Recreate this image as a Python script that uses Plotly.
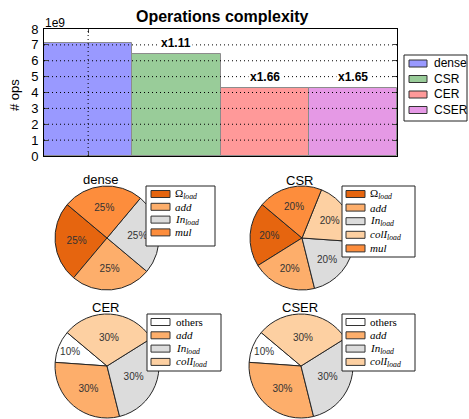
import plotly.graph_objects as go

W, H = 469, 419

# ---- bar chart data ----
bar_names = ["dense", "CSR", "CER", "CSER"]
bar_ops = [7.10e9, 6.40e9, 4.28e9, 4.30e9]
ops_ticks = [0, 1e9, 2e9, 3e9, 4e9, 5e9, 6e9, 7e9, 8e9]
ops_tick_labels = ["0", "1", "2", "3", "4", "5", "6", "7", "8"]

# ---- operation breakdown per format (percent) ----
dense_parts = ["omega", "add", "in", "mul"]
dense_shares = [25, 25, 25, 25]
csr_parts = ["omega", "add", "in", "coli", "mul"]
csr_shares = [20, 20, 20, 20, 20]
cer_parts = ["others", "add", "in", "coli"]
cer_shares = [10, 30, 30, 30]
cser_parts = ["others", "add", "in", "coli"]
cser_shares = [10, 30, 30, 30]

SUB = '<sub><span style="color:#000000"><i>load</i></span></sub>'
part_names = {
    "omega": "Ω" + SUB,
    "add": "<i>add</i>",
    "in": "<i>In</i>" + SUB,
    "coli": "<i>colI</i>" + SUB,
    "mul": "<i>mul</i>",
    "others": "others",
}
part_colors = {
    "omega": "#e6650f",
    "add": "#fdae6b",
    "in": "#dcdcdc",
    "coli": "#fdd0a2",
    "mul": "#fd8d3c",
    "others": "#ffffff",
}
bar_fills = ["rgba(0,0,255,0.4)", "rgba(0,128,0,0.4)",
             "rgba(255,0,0,0.4)", "rgba(191,0,191,0.4)"]

SANS = "Liberation Sans, Arial, sans-serif"
SERIF = "Liberation Serif, DejaVu Serif, serif"

# first wedge begins 50 deg counter-clockwise from 12 o'clock
START_DEG = 50


def px(x):
    return x / W


def py(y):
    return 1 - y / H


fig = go.Figure()

# ---- bars ----
for i, (name, val) in enumerate(zip(bar_names, bar_ops)):
    fig.add_trace(go.Bar(
        x=[i], y=[val], width=1, name=name,
        marker=dict(color=bar_fills[i], line=dict(color="#8c8c8c", width=1)),
        showlegend=False, hoverinfo="skip",
    ))

# speed-up labels relative to the dense baseline
for i, val in enumerate(bar_ops):
    if i == 0:
        continue
    ratio = bar_ops[0] / val
    fig.add_annotation(
        x=i, y=val, xref="x", yref="y", text=f"<b>x{ratio:.2f}</b>",
        showarrow=False, yanchor="bottom", yshift=2, bgcolor="white",
        borderpad=1, font=dict(family=SANS, size=12, color="black"),
    )

# dotted grid drawn over the bars
for t in ops_ticks[1:-1]:
    fig.add_shape(type="line", xref="x domain", yref="y", x0=0, x1=1, y0=t, y1=t,
                  line=dict(color="black", width=1, dash="1px,3px"), layer="above")
fig.add_shape(type="line", xref="x", yref="y domain", x0=0, x1=0, y0=0, y1=1,
              line=dict(color="black", width=1, dash="1px,3px"), layer="above")

fig.update_layout(
    xaxis=dict(domain=[px(44), px(397)], range=[-0.5, len(bar_names) - 0.5],
               tickvals=[0], ticktext=[""], ticks="inside", ticklen=4,
               showline=True, linecolor="black", linewidth=1, mirror="ticks",
               showgrid=False, zeroline=False, automargin=False, fixedrange=True),
    yaxis=dict(domain=[py(156), py(29)], range=[0, ops_ticks[-1]],
               tickvals=ops_ticks, ticktext=ops_tick_labels, ticks="inside", ticklen=4,
               showline=True, linecolor="black", linewidth=1, mirror="ticks",
               showgrid=False, zeroline=False, automargin=False,
               tickfont=dict(family=SANS, size=13, color="black"),
               ticklabelstandoff=2, fixedrange=True),
    bargap=0,
)

# ---- pies ----
pies = [
    ("dense", dense_parts, dense_shares, (107, 238)),
    ("CSR", csr_parts, csr_shares, (302, 238)),
    ("CER", cer_parts, cer_shares, (107, 366)),
    ("CSER", cser_parts, cser_shares, (301, 366)),
]
R = 52
for title, parts, shares, (cx, cy) in pies:
    # plotly's counter-clockwise pies place the first wedge clockwise of `rotation`
    first_deg = 360 * shares[0] / sum(shares)
    fig.add_trace(go.Pie(
        labels=[part_names[p] for p in parts], values=shares,
        marker=dict(colors=[part_colors[p] for p in parts],
                    line=dict(color="#262626", width=1)),
        sort=False, direction="counterclockwise", rotation=-(START_DEG + first_deg),
        textinfo="percent", texttemplate="%{percent:.0%}", textposition="inside",
        insidetextorientation="horizontal",
        textfont=dict(family=SANS, size=10, color="#333333"),
        domain=dict(x=[px(cx - R), px(cx + R)], y=[py(cy + R), py(cy - R)]),
        showlegend=False, hoverinfo="skip",
    ))

# pie titles
for text, x, y in [("dense", 100, 179), ("CSR", 299, 180), ("CER", 105, 307), ("CSER", 300, 307)]:
    fig.add_annotation(x=px(x), y=py(y), xref="paper", yref="paper", text=text,
                       showarrow=False, xanchor="center", yanchor="middle",
                       font=dict(family=SANS, size=13, color="black"))


def add_legend(box, first_row, step, patch_x, patch_w, text_x, names, colors, font):
    left, top, right, bottom = box
    fig.add_shape(type="rect", xref="paper", yref="paper",
                  x0=px(left), x1=px(right), y0=py(bottom), y1=py(top),
                  line=dict(color="#222222", width=1), fillcolor="white", layer="above")
    for i, (name, color) in enumerate(zip(names, colors)):
        yc = first_row + i * step
        fig.add_shape(type="rect", xref="paper", yref="paper",
                      x0=px(patch_x), x1=px(patch_x + patch_w),
                      y0=py(yc + 3.5), y1=py(yc - 3.5),
                      line=dict(color="#333333", width=1), fillcolor=color, layer="above")
        fig.add_annotation(x=px(text_x), y=py(yc), xref="paper", yref="paper", text=name,
                           showarrow=False, xanchor="left", yanchor="middle",
                           borderpad=0, font=font)


# bar legend
add_legend((404, 55, 467, 121), 63.5, 15.5, 409, 18, 433, bar_names, bar_fills,
           dict(family=SANS, size=12, color="black"))

serif_font = dict(family=SERIF, size=11, color="black")
add_legend((146, 186, 215, 246), 194, 12.8, 151, 19, 174,
           [part_names[p] for p in dense_parts], [part_colors[p] for p in dense_parts], serif_font)
add_legend((342, 186, 415, 257), 194, 13.6, 346, 19, 369,
           [part_names[p] for p in csr_parts], [part_colors[p] for p in csr_parts], serif_font)
add_legend((147, 314, 221, 371), 322, 13.3, 151, 19, 175,
           [part_names[p] for p in cer_parts], [part_colors[p] for p in cer_parts], serif_font)
add_legend((342, 314, 415, 371), 322, 13.3, 346, 19, 369,
           [part_names[p] for p in cser_parts], [part_colors[p] for p in cser_parts], serif_font)

# bar chart titles
fig.add_annotation(x=px(222), y=py(16), xref="paper", yref="paper",
                   text="<b>Operations complexity</b>", showarrow=False,
                   xanchor="center", yanchor="middle",
                   font=dict(family=SANS, size=16, color="black"))
fig.add_annotation(x=px(43), y=py(23), xref="paper", yref="paper", text="1e9",
                   showarrow=False, xanchor="left", yanchor="middle",
                   font=dict(family=SANS, size=12, color="black"))
fig.add_annotation(x=px(15), y=py(95), xref="paper", yref="paper", text="# ops",
                   showarrow=False, textangle=-90, xanchor="center", yanchor="middle",
                   font=dict(family=SANS, size=13, color="black"))

fig.update_layout(
    width=W, height=H, margin=dict(l=0, r=0, t=0, b=0),
    template="none", paper_bgcolor="white", plot_bgcolor="white",
    showlegend=False,
)

fig.write_html("out.html")
